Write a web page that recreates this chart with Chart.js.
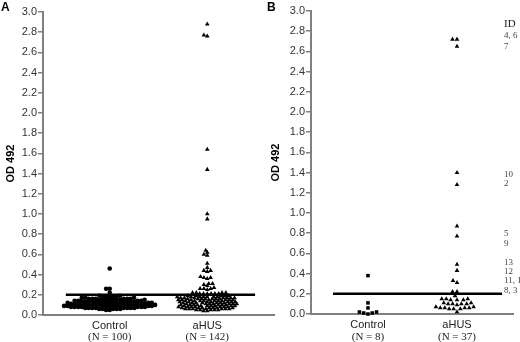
<!DOCTYPE html>
<html>
<head>
<meta charset="utf-8">
<script src="https://cdn.jsdelivr.net/npm/chart.js@4.4.1/dist/chart.umd.min.js"></script>
<style>
  html, body { margin: 0; padding: 0; background: #fff; }
  #wrap { position: relative; width: 520px; height: 342px; overflow: hidden; }
  canvas { position: absolute; top: 0; }
  #chartA { left: 0; }
  #chartB { left: 262px; }
  .panel { position: absolute; top: 0; font: bold 12px "Liberation Sans", Arial, sans-serif; color: #000; }
</style>
</head>
<body>
<div id="wrap">
  <canvas id="chartA" width="278" height="342"></canvas>
  <canvas id="chartB" width="258" height="342"></canvas>
  <div class="panel" style="left:1px">A</div>
  <div class="panel" style="left:267px">B</div>
</div>
<script>
// categories and sample sizes
const categories = ['Control', 'aHUS'];
const nLabelsA = ['(N = 100)', '(N = 142)'];
const nLabelsB = ['(N = 8)', '(N = 37)'];
const cutoff = 0.2;

// OD 492 values, panel A
const controlA = [
    0.46, 0.26, 0.26, 0.22,
    0.19, 0.19,
    0.18, 0.18, 0.18,
    0.17, 0.17, 0.17, 0.17, 0.17,
    0.16, 0.16, 0.16, 0.16, 0.16, 0.16,
    0.15, 0.15, 0.15, 0.15, 0.15, 0.15,
    0.14, 0.14, 0.14, 0.14, 0.14, 0.14, 0.14,
    0.13, 0.13, 0.13, 0.13, 0.13, 0.13, 0.13, 0.13,
    0.12, 0.12, 0.12, 0.12, 0.12, 0.12, 0.12, 0.12,
    0.11, 0.11, 0.11, 0.11, 0.11, 0.11, 0.11, 0.11, 0.11,
    0.10, 0.10, 0.10, 0.10, 0.10, 0.10, 0.10, 0.10, 0.10,
    0.09, 0.09, 0.09, 0.09, 0.09, 0.09, 0.09, 0.09, 0.09,
    0.08, 0.08, 0.08, 0.08, 0.08, 0.08, 0.08, 0.08, 0.08,
    0.07, 0.07, 0.07, 0.07, 0.07, 0.07, 0.07, 0.07,
    0.06, 0.06, 0.06, 0.06, 0.06,
    0.05, 0.05
];
const ahusA = [
    2.88, 2.77, 2.76, 1.64, 1.44, 1.00, 0.95,
    0.64, 0.62, 0.60, 0.59, 0.51, 0.47, 0.44, 0.44, 0.43,
    0.38, 0.37, 0.37, 0.36, 0.31, 0.31, 0.30, 0.29,
    0.27, 0.26, 0.26, 0.26, 0.25,
    0.22, 0.22, 0.22, 0.21, 0.21, 0.21, 0.21, 0.22, 0.21, 0.21,
    0.19, 0.19, 0.19, 0.19, 0.19,
    0.18, 0.18, 0.18, 0.18, 0.18, 0.18, 0.18,
    0.17, 0.17, 0.17, 0.17, 0.17, 0.17, 0.17,
    0.16, 0.16, 0.16, 0.16, 0.16, 0.16, 0.16,
    0.15, 0.15, 0.15, 0.15, 0.15, 0.15, 0.15,
    0.14, 0.14, 0.14, 0.14, 0.14, 0.14, 0.14,
    0.13, 0.13, 0.13, 0.13, 0.13, 0.13, 0.13,
    0.12, 0.12, 0.12, 0.12, 0.12, 0.12, 0.12,
    0.11, 0.11, 0.11, 0.11, 0.11, 0.11, 0.11,
    0.10, 0.10, 0.10, 0.10, 0.10, 0.10, 0.10,
    0.09, 0.09, 0.09, 0.09, 0.09, 0.09, 0.09,
    0.08, 0.08, 0.08, 0.08, 0.08, 0.08, 0.08,
    0.07, 0.07, 0.07, 0.07, 0.07, 0.07, 0.07,
    0.06, 0.06, 0.06, 0.06, 0.06, 0.06, 0.06,
    0.05, 0.05, 0.05, 0.05, 0.05,
    0.04, 0.04
];

// OD 492 values, panel B
const controlB = [0.38, 0.11, 0.06, 0.02, 0.01, 0.00, 0.01, 0.02];
const ahusB = [
    2.72, 2.72, 2.65, 1.40, 1.28, 0.87, 0.77, 0.49, 0.43, 0.33, 0.31, 0.22, 0.22,
    0.18, 0.15, 0.15, 0.14, 0.14, 0.15, 0.14,
    0.11, 0.10, 0.10, 0.11, 0.09, 0.10, 0.10,
    0.06, 0.05, 0.06, 0.07, 0.06, 0.05, 0.06, 0.07, 0.05,
    0.02
];

// patient IDs written at the right of panel B
const idLabels = ['ID', '4, 6', '7', '10', '2', '5', '9', '13', '12', '11, 1', '8, 3'];
const idLevels = [2.87, 2.76, 2.65, 1.38, 1.29, 0.80, 0.70, 0.51, 0.42, 0.33, 0.23];

const sans = '"Liberation Sans", Arial, sans-serif';
const serif = '"Liberation Serif", "Times New Roman", serif';

const extraText = {
    id: 'extraText',
    afterDraw(chart, args, opts) {
        const ctx = chart.ctx;
        const xs = chart.scales.x, ys = chart.scales.y;
        ctx.save();
        ctx.fillStyle = '#222';
        ctx.textBaseline = 'middle';
        ctx.textAlign = 'center';
        ctx.font = '11px ' + serif;
        opts.nLabels.forEach((t, i) => ctx.fillText(t, xs.getPixelForValue(i + 1), opts.nY));
        if (opts.ids) {
            ctx.textAlign = 'left';
            opts.ids.forEach((t, i) => {
                ctx.font = (i === 0 ? '11px ' : '9px ') + serif;
                ctx.fillStyle = i === 0 ? '#222' : '#444';
                ctx.fillText(t, opts.idX, ys.getPixelForValue(opts.levels[i]));
            });
        }
        ctx.restore();
    }
};

function makeChart(id, cfg) {
    return new Chart(document.getElementById(id), {
        type: 'scatter',
        data: {
            datasets: [
                {
                    type: 'line', showLine: true, data: cfg.cutLine,
                    borderColor: '#000', borderWidth: 2.6, pointRadius: 0, clip: false
                },
                {
                    data: cfg.control.map(v => ({ x: 1, y: v })),
                    pointStyle: cfg.controlStyle, pointRadius: cfg.controlRadius,
                    backgroundColor: '#000', borderWidth: 0, clip: false
                },
                {
                    data: cfg.ahus.map(v => ({ x: 2, y: v })),
                    pointStyle: 'triangle', pointRadius: 2.7,
                    backgroundColor: '#000', borderWidth: 0, clip: false
                }
            ]
        },
        options: {
            responsive: false,
            animation: false,
            layout: { padding: { top: cfg.top, right: cfg.right, left: 0, bottom: 0 } },
            plugins: {
                legend: { display: false },
                tooltip: { enabled: false },
                extraText: { nLabels: cfg.nLabels, nY: 337, ids: cfg.ids, levels: idLevels, idX: cfg.idX }
            },
            scales: {
                x: {
                    type: 'linear', min: cfg.xMin, max: cfg.xMax,
                    afterBuildTicks: s => { s.ticks = [{ value: 1 }, { value: 2 }]; },
                    afterFit: s => { s.height = cfg.xHeight; },
                    ticks: {
                        callback: v => categories[v - 1],
                        color: '#222', font: { family: sans, size: 11 },
                        padding: 4, maxRotation: 0, autoSkip: false
                    },
                    grid: { display: false, drawTicks: false },
                    border: { color: '#808080', width: 2 }
                },
                y: {
                    min: 0, max: 3,
                    afterFit: s => { s.width = cfg.yWidth; },
                    ticks: {
                        stepSize: 0.2, callback: v => v.toFixed(1),
                        color: '#333', font: { family: sans, size: 11 }, padding: 1
                    },
                    grid: { drawOnChartArea: false, drawTicks: true, tickLength: 5, color: '#808080', lineWidth: 1.5 },
                    border: { color: '#808080', width: 2 },
                    title: {
                        display: true, text: 'OD 492', color: '#000',
                        font: { family: sans, size: 11, weight: 'bold' }, padding: { top: cfg.titlePad, bottom: 0 }
                    }
                }
            }
        },
        plugins: [extraText]
    });
}

// spread points sideways: equal values sit side by side (spacing dxd px),
// values at least dyd px apart may share the same column
function swarm(chart, dsIndex, center, dxd, dyd) {
    const xs = chart.scales.x, ys = chart.scales.y;
    const ds = chart.data.datasets[dsIndex];
    const values = ds.data.map(p => p.y);
    const cx = xs.getPixelForValue(center);
    const order = values.map((v, i) => i).sort((a, b) => values[a] - values[b]);
    const placed = [];
    const pts = new Array(values.length);
    order.forEach(i => {
        const py = ys.getPixelForValue(values[i]);
        const blocked = [];
        placed.forEach(p => {
            const dy = Math.abs(p.y - py);
            if (dy < dyd) {
                const dx = dxd * Math.sqrt(1 - (dy / dyd) * (dy / dyd));
                blocked.push([p.x - dx, p.x + dx]);
            }
        });
        const cands = [0];
        blocked.forEach(b => cands.push(b[0], b[1]));
        cands.sort((a, b) => Math.abs(a) - Math.abs(b));
        const off = cands.find(c => blocked.every(b => c <= b[0] + 1e-6 || c >= b[1] - 1e-6));
        placed.push({ x: off, y: py });
        pts[i] = { x: xs.getValueForPixel(cx + off), y: values[i] };
    });
    ds.data = pts;
}

const chartA = makeChart('chartA', {
    control: controlA, ahus: ahusA, controlStyle: 'circle', controlRadius: 2.3,
    nLabels: nLabelsA, cutLine: [{ x: 0.55, y: cutoff }, { x: 2.49, y: cutoff }],
    xMin: 0.316, xMax: 2.684, top: 12, right: 3, xHeight: 27, yWidth: 43, titlePad: 4
});
swarm(chartA, 1, 1, 3.6, 2.6);
swarm(chartA, 2, 2, 3.8, 2.2);
chartA.update('none');

const chartB = makeChart('chartB', {
    control: controlB, ahus: ahusB, controlStyle: 'rect', controlRadius: 2.5,
    nLabels: nLabelsB, cutLine: [{ x: 0.607, y: cutoff }, { x: 2.506, y: cutoff }],
    ids: idLabels, idX: 242,
    xMin: 0.36, xMax: 2.629, top: 11, right: 7, xHeight: 28, yWidth: 49, titlePad: 7
});
swarm(chartB, 1, 1, 4.4, 4.4);
swarm(chartB, 2, 2, 4.5, 4.5);
chartB.update('none');
</script>
</body>
</html>
